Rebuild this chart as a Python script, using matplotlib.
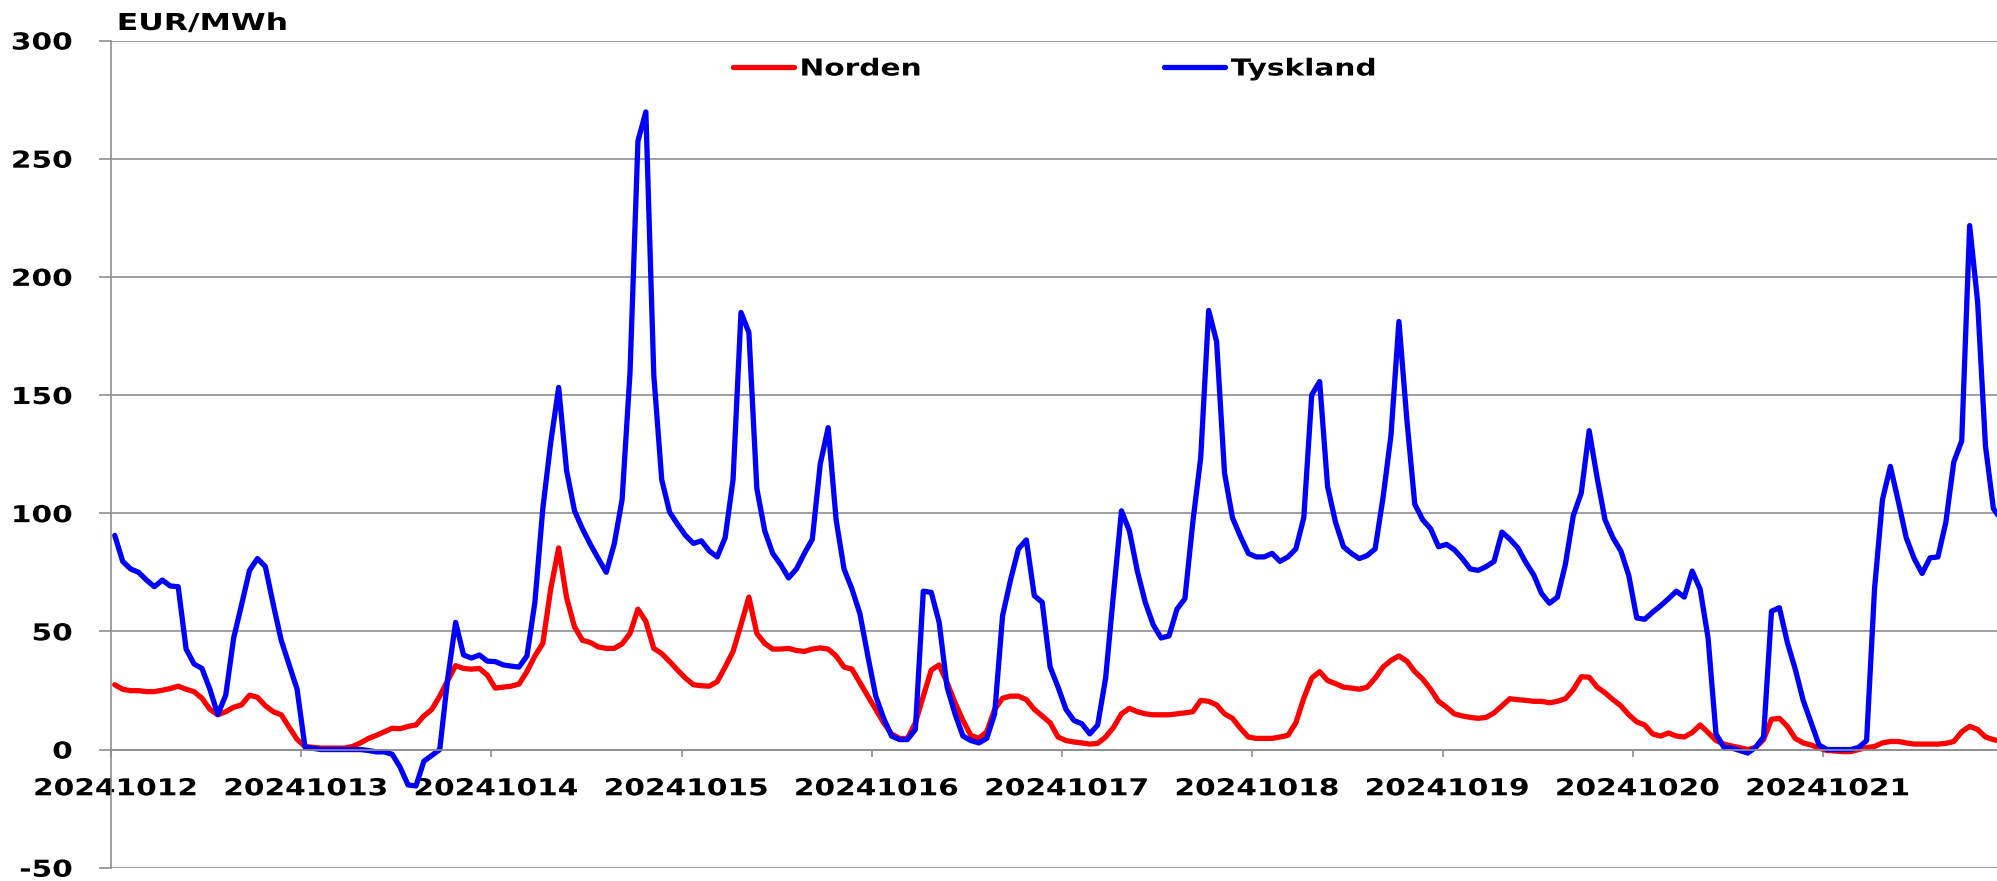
import numpy as np
import matplotlib
matplotlib.use("Agg")
import matplotlib.pyplot as plt
from matplotlib.patheffects import AbstractPathEffect
from matplotlib.transforms import Affine2D


days = ["20241012", "20241013", "20241014", "20241015", "20241016",
        "20241017", "20241018", "20241019", "20241020", "20241021"]

# hourly prices, EUR/MWh
norden = [
    27.4, 25.5, 24.9, 24.9, 24.5, 24.5, 25.1, 25.8, 26.8, 25.5, 24.5, 21.7,
    17.0, 14.7, 16.0, 17.9, 18.9, 23.0, 22.1, 18.5, 16.0, 14.7, 9.4, 4.3,
    1.3, 0.9, 0.6, 0.6, 0.6, 0.6, 1.3, 2.8, 4.7, 6.0, 7.5, 9.0,
    8.8, 9.8, 10.4, 14.2, 17.0, 22.6, 29.2, 35.5, 34.3, 34.0, 34.3, 31.5,
    26.0, 26.4, 26.8, 27.7, 33.0, 39.6, 44.9, 68.0, 85.3, 64.2, 51.9, 46.2,
    45.3, 43.4, 42.8, 42.8, 44.7, 49.1, 59.4, 54.2, 42.8, 40.6, 37.2, 33.6,
    30.2, 27.4, 27.0, 26.8, 28.7, 34.9, 41.5, 52.8, 64.5, 49.1, 44.9, 42.5,
    42.5, 42.8, 41.9, 41.5, 42.5, 43.0, 42.5, 39.6, 34.9, 34.0, 28.3, 22.6,
    17.0, 11.3, 6.6, 4.7, 4.7, 11.3, 22.6, 33.6, 35.8, 28.3, 19.8, 12.3,
    6.0, 4.7, 7.5, 17.0, 21.7, 22.6, 22.6, 21.1, 17.0, 14.2, 11.3, 5.3,
    3.8, 3.2, 2.8, 2.3, 2.6, 5.3, 9.4, 15.1, 17.4, 16.0, 15.1, 14.7,
    14.7, 14.7, 15.1, 15.5, 16.0, 20.8, 20.4, 18.9, 15.1, 13.2, 9.0, 5.3,
    4.7, 4.7, 4.7, 5.3, 6.0, 11.3, 21.7, 30.2, 33.0, 29.2, 27.9, 26.4,
    26.0, 25.5, 26.4, 30.2, 34.9, 37.7, 39.6, 37.4, 33.0, 29.8, 25.5, 20.4,
    17.9, 15.1, 14.2, 13.6, 13.2, 13.6, 15.5, 18.5, 21.5, 21.1, 20.8, 20.4,
    20.4, 19.8, 20.4, 21.5, 25.3, 30.8, 30.6, 26.4, 24.0, 21.1, 18.5, 14.7,
    11.7, 10.4, 6.6, 5.7, 7.0, 5.7, 5.3, 7.2, 10.4, 7.2, 3.8, 2.3,
    1.5, 0.8, 0.0, 0.9, 4.2, 12.8, 13.2, 9.8, 4.7, 2.8, 1.9, 0.6,
    -0.4, -0.6, -0.9, -0.9, 0.0, 0.8, 1.3, 2.8, 3.4, 3.4, 2.8, 2.3,
    2.3, 2.3, 2.3, 2.6, 3.4, 7.5, 9.8, 8.5, 5.3, 4.2, 3.4,
]

tyskland = [
    90.6, 79.6, 76.4, 75.0, 71.7, 68.9, 71.7, 69.2, 68.9, 42.5, 36.2, 34.3,
    25.5, 14.8, 23.0, 47.2, 61.3, 75.8, 80.8, 77.4, 61.3, 46.2, 35.8, 25.5,
    1.0, 0.5, 0.0, 0.0, 0.0, 0.0, 0.0, 0.0, -0.4, -1.0, -1.0, -2.0,
    -7.5, -15.0, -15.4, -4.9, -2.5, 0.0, 30.0, 53.8, 40.0, 38.7, 40.0, 37.4,
    37.2, 35.8, 35.3, 34.9, 39.6, 62.3, 101.9, 130.0, 153.2, 118.0, 101.0, 93.4,
    86.8, 80.8, 75.0, 86.8, 105.7, 159.4, 257.5, 269.8, 158.5, 114.2, 100.4, 95.3,
    90.6, 87.2, 88.3, 84.0, 81.5, 89.6, 114.2, 184.9, 176.4, 110.4, 92.5, 83.0,
    78.3, 72.6, 76.4, 83.0, 89.0, 120.8, 136.2, 97.2, 76.4, 67.9, 57.5, 39.6,
    22.6, 13.2, 5.7, 4.2, 4.2, 8.5, 67.0, 66.5, 53.8, 26.4, 15.1, 5.7,
    3.8, 2.8, 4.7, 15.1, 56.6, 71.7, 84.9, 88.7, 65.1, 62.3, 34.9, 26.4,
    17.0, 12.3, 10.9, 6.6, 10.4, 30.2, 66.0, 101.0, 92.5, 75.5, 62.3, 52.8,
    47.2, 48.1, 59.4, 63.8, 96.2, 123.6, 185.8, 172.6, 117.0, 98.1, 90.2, 83.0,
    81.5, 81.5, 83.0, 79.6, 81.5, 84.9, 98.1, 150.0, 155.7, 111.3, 96.2, 85.8,
    83.0, 80.8, 82.1, 84.9, 106.6, 133.0, 181.1, 139.6, 103.8, 97.2, 93.4, 85.8,
    86.8, 84.5, 80.8, 76.4, 75.8, 77.4, 79.6, 92.0, 89.0, 85.3, 79.2, 73.9,
    66.0, 61.9, 64.5, 78.3, 99.0, 108.5, 134.9, 115.1, 97.2, 89.6, 84.0, 73.6,
    55.7, 55.1, 58.1, 60.8, 63.8, 67.0, 64.5, 75.5, 67.9, 47.2, 6.6, 0.9,
    0.6, -0.4, -1.5, 0.9, 5.3, 58.5, 60.0, 45.3, 34.0, 20.8, 11.3, 1.9,
    0.0, 0.0, 0.0, 0.0, 0.9, 3.8, 67.9, 105.7, 119.8, 105.0, 89.6, 80.8,
    74.5, 81.1, 81.5, 96.2, 121.7, 130.6, 221.7, 189.6, 128.3, 101.9, 97.2,
]

hours = np.arange(len(norden))


class Widen(AbstractPathEffect):
    """stretch text horizontally, the source chart has wide letters"""

    def __init__(self, sx, anchor="left"):
        super().__init__()
        self.sx = sx
        self.anchor = anchor

    def draw_path(self, renderer, gc, tpath, affine, rgbFace=None):
        ext = tpath.get_extents()
        cx = {"left": 0.0, "center": (ext.x0 + ext.x1) / 2, "right": ext.x1}[self.anchor]
        stretch = Affine2D().translate(-cx, 0).scale(self.sx, 1).translate(cx, 0)
        renderer.draw_path(gc, tpath, stretch + affine, rgbFace)


plt.rcParams["font.family"] = "DejaVu Sans"
plt.rcParams["font.weight"] = "bold"
plt.rcParams["axes.unicode_minus"] = False

W, H = 1997, 881
fs = 16.8
grid = "#8f8f8f"

fig = plt.figure(figsize=(W / 100, H / 100), dpi=100)
ax = fig.add_axes([110.8 / W, 13.3 / H, 1 - 110.8 / W, 827.2 / H])

line_kw = dict(lw=3.8, solid_joinstyle="round", solid_capstyle="round")
ax.plot(hours, norden, color="#ff0000", label="Norden", **line_kw)
ax.plot(hours, tyskland, color="#0000ff", label="Tyskland", **line_kw)

ax.set_xlim(-0.5, 237.45)
ax.set_ylim(-50, 300)
ax.set_yticks(range(-50, 301, 50))
ax.yaxis.grid(True, color=grid, lw=1.2)
ax.set_axisbelow(True)

for s in ("top", "right"):
    ax.spines[s].set_visible(False)
ax.spines["left"].set_color(grid)
ax.spines["left"].set_linewidth(1.2)
ax.spines["bottom"].set_position(("data", 0))
ax.spines["bottom"].set_color(grid)
ax.spines["bottom"].set_linewidth(1.2)

# tick marks on day boundaries, labels a touch to the right of them
day_edges = np.arange(len(days)) * 24 - 0.5
ax.set_xticks(day_edges + 0.6)
ax.set_xticklabels(days)
ax.set_xticks(day_edges, minor=True)
ax.tick_params(axis="x", which="major", length=0, pad=20, labelsize=fs)
ax.tick_params(axis="x", which="minor", length=5, width=1.2, color=grid)
ax.tick_params(axis="y", length=8.6, width=1.2, color=grid, pad=19, labelsize=fs)

for lbl in ax.get_xticklabels():
    lbl.set_path_effects([Widen(1.27, "center")])
for lbl in ax.get_yticklabels():
    lbl.set_path_effects([Widen(1.27, "right")])

fig.text(116.7 / W, 1 - 30 / H, "EUR/MWh", fontsize=fs, ha="left", va="baseline",
         path_effects=[Widen(1.35, "left")])

leg = fig.legend(loc="center left", bbox_to_anchor=(733 / W, 1 - 69 / H), ncol=2,
                 frameon=False, fontsize=fs, handlelength=2.6, handletextpad=0.25,
                 columnspacing=11.5, borderpad=0, borderaxespad=0)
for t in leg.get_texts():
    t.set_path_effects([Widen(1.27, "left")])

fig.savefig("out.png", dpi=100)
print("saved out.png")
